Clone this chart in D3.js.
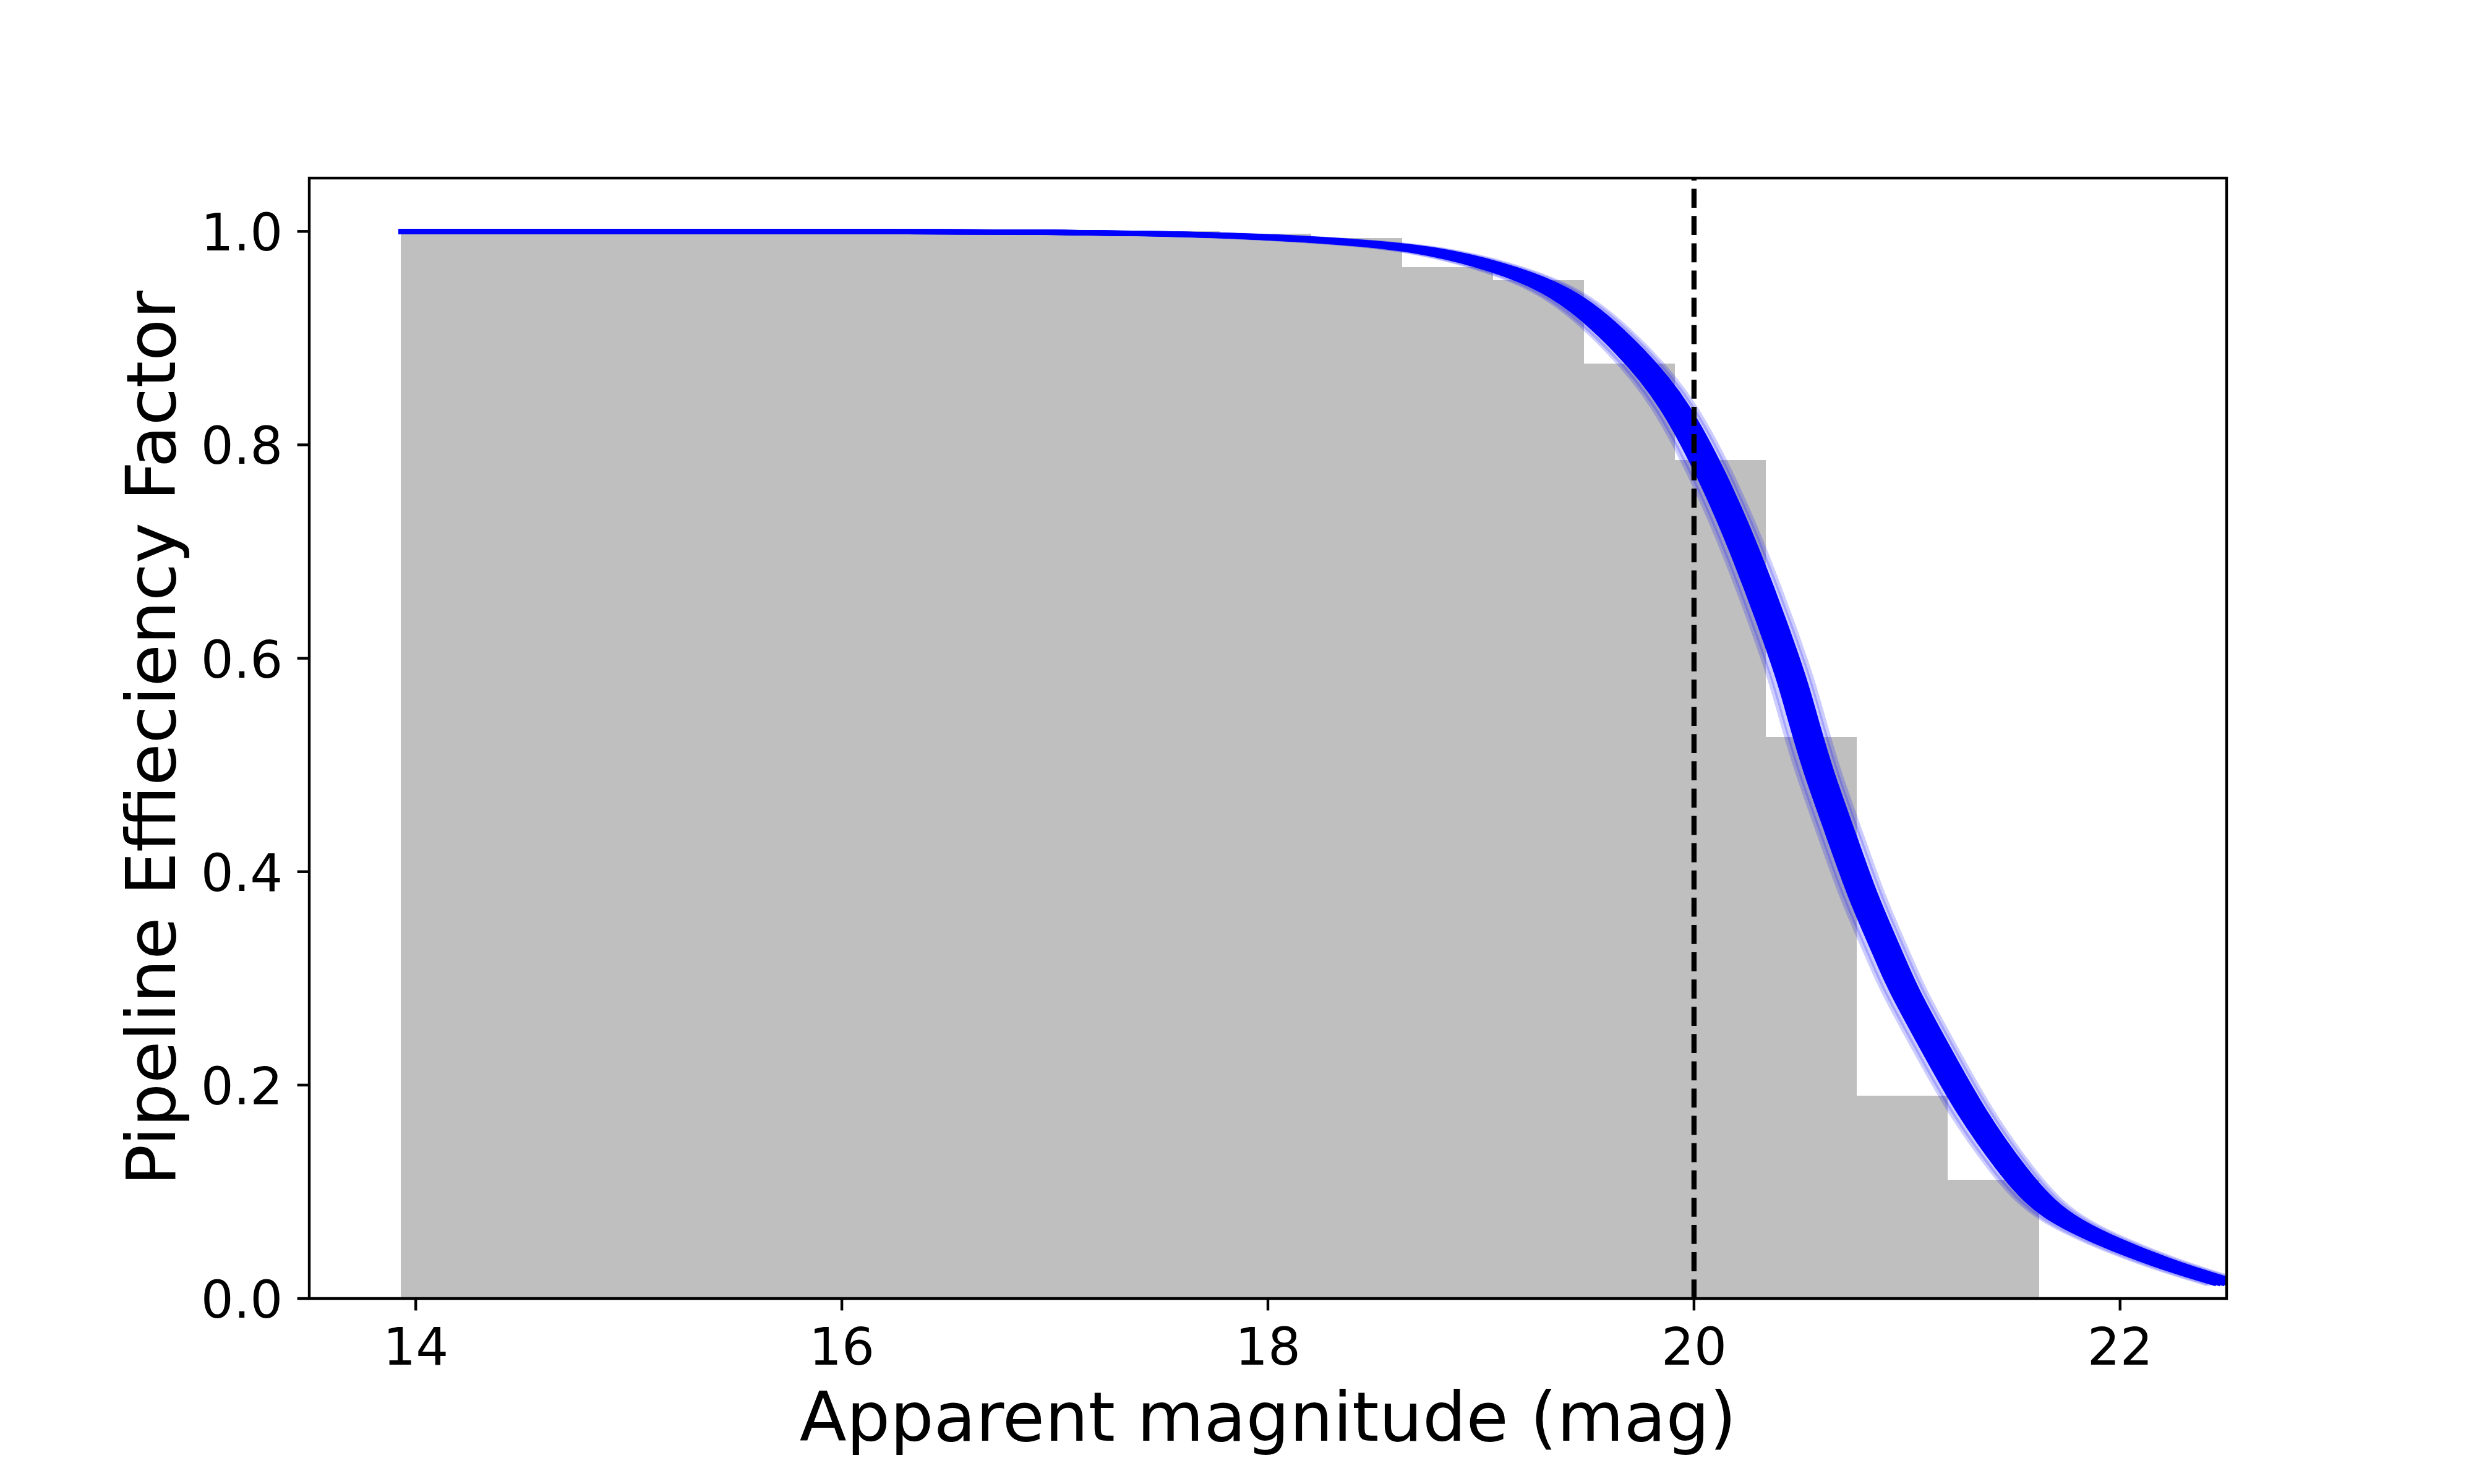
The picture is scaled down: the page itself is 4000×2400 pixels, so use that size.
<!DOCTYPE html>
<html>
<head>
<meta charset="utf-8">
<script src="https://cdn.jsdelivr.net/npm/d3@7"></script>
<style>
  body { margin: 0; background: #fff; }
  text { font-family: "DejaVu Sans", sans-serif; fill: #000; }
</style>
</head>
<body>
<div id="chart"></div>
<script>
// histogram of the pipeline efficiency (grey steps)
var binEdges = [13.93, 14.357, 14.784, 15.212, 15.639, 16.066, 16.493, 16.92, 17.347,
                17.774, 18.202, 18.629, 19.056, 19.483, 19.91, 20.337, 20.764, 21.192, 21.619];
var binHeights = [1.0, 1.0, 1.0, 1.0, 1.0, 1.0, 1.0, 1.0, 1.0,
                  0.998, 0.994, 0.9667, 0.9544, 0.8763, 0.786, 0.526, 0.190, 0.1113];

// median efficiency curve
var curveMag = [13.93, 15.0, 16.0, 17.0, 17.5, 18.0, 18.4, 18.725, 19.05, 19.3, 19.483,
                19.693, 19.91, 20.13, 20.25, 20.36, 20.46, 20.50, 20.58, 20.69, 20.79,
                20.92, 20.975, 21.14, 21.30, 21.50, 21.63, 21.75, 21.92, 22.21, 22.5];
var curveEff = [1.0, 1.0, 1.0, 0.9995, 0.998, 0.995, 0.990, 0.984, 0.969, 0.951, 0.929,
                0.890, 0.841, 0.753, 0.695, 0.637, 0.580, 0.551, 0.495, 0.435, 0.377,
                0.319, 0.292, 0.232, 0.174, 0.118, 0.089, 0.072, 0.055, 0.032, 0.0145];

// spread of the posterior sample curves (shift in mag): solid core + faint outliers
var coreShifts = [-0.06, -0.04, -0.02, 0, 0.02, 0.04, 0.06];
var faintShifts = [-0.1, -0.085, 0.08, 0.095];

var magCut = 20;   // dashed vertical line
var xTicks = [14, 16, 18, 20, 22];
var yTicks = [0.0, 0.2, 0.4, 0.6, 0.8, 1.0];

var xLabel = "Apparent magnitude (mag)";
var yLabel = "Pipeline Effieciency Factor";

// figure geometry (10x6 in @ 400 dpi)
var width = 4000, height = 2400;
var plot = {left: 500, right: 3600, top: 288, bottom: 2100};
var lw = 8.33;      // 1.5 pt
var spineW = 4.4;   // 0.8 pt
var tickLen = 19.4;

var x = d3.scaleLinear().domain([13.5, 22.5]).range([plot.left, plot.right]);
var y = d3.scaleLinear().domain([0, 1.05]).range([plot.bottom, plot.top]);

var svg = d3.select("#chart")
    .append("svg")
    .attr("width", width)
    .attr("height", height)
    .style("background-color", "white");

svg.append("defs").append("clipPath")
    .attr("id", "curveClip")
    .append("rect")
    .attr("x", x(binEdges[0]) - lw / 2)
    .attr("y", plot.top)
    .attr("width", plot.right - x(binEdges[0]) + lw / 2)
    .attr("height", plot.bottom - plot.top);

// histogram bars
svg.append("g")
    .selectAll("rect")
    .data(binHeights)
    .enter()
    .append("rect")
    .attr("x", function(d, i) { return x(binEdges[i]); })
    .attr("width", function(d, i) { return x(binEdges[i + 1]) - x(binEdges[i]); })
    .attr("y", function(d) { return y(d); })
    .attr("height", function(d) { return y(0) - y(d); })
    .style("fill", "#bfbfbf")
    .attr("shape-rendering", "crispEdges");

var pts = curveMag.map(function(m, i) { return {m: m, e: curveEff[i]}; });

function shiftedLine(s) {
    return d3.line()
        .x(function(d) { return x(d.m + s); })
        .y(function(d) { return y(d.e); })
        .curve(d3.curveBasis);
}

var curves = svg.append("g").attr("clip-path", "url(#curveClip)");

// faint outlying samples
curves.selectAll(".faint")
    .data(faintShifts)
    .enter()
    .append("path")
    .attr("class", "faint")
    .attr("d", function(s) { return shiftedLine(s)(pts); })
    .style("fill", "none")
    .style("stroke", "#0000ff")
    .style("stroke-opacity", 0.2)
    .style("stroke-width", lw)
    .style("stroke-linecap", "square");

// dense core of the samples
curves.selectAll(".core")
    .data(coreShifts)
    .enter()
    .append("path")
    .attr("class", "core")
    .attr("d", function(s) { return shiftedLine(s)(pts); })
    .style("fill", "none")
    .style("stroke", "#0000ff")
    .style("stroke-width", lw)
    .style("stroke-linecap", "square");

// dashed line at the cut magnitude, drawn from the bottom up
svg.append("line")
    .attr("x1", x(magCut)).attr("x2", x(magCut))
    .attr("y1", y(0)).attr("y2", y(1.05))
    .style("stroke", "#000")
    .style("stroke-width", lw)
    .style("stroke-dasharray", "30.8,13.3");

// ticks
var xt = svg.append("g").selectAll("g").data(xTicks).enter().append("g")
    .attr("transform", function(d) { return "translate(" + x(d) + ",0)"; });
xt.append("line")
    .attr("y1", plot.bottom).attr("y2", plot.bottom + tickLen)
    .style("stroke", "#000").style("stroke-width", spineW);
xt.append("text")
    .attr("y", 2207)
    .attr("text-anchor", "middle")
    .style("font-size", "83.3px")
    .text(function(d) { return d; });

var yt = svg.append("g").selectAll("g").data(yTicks).enter().append("g")
    .attr("transform", function(d) { return "translate(0," + y(d) + ")"; });
yt.append("line")
    .attr("x1", plot.left - tickLen).attr("x2", plot.left)
    .style("stroke", "#000").style("stroke-width", spineW);
yt.append("text")
    .attr("x", plot.left - 2 * tickLen - 4)
    .attr("y", 31)
    .attr("text-anchor", "end")
    .style("font-size", "83.3px")
    .text(function(d) { return d3.format(".1f")(d); });

// axes frame
svg.append("rect")
    .attr("x", plot.left).attr("y", plot.top)
    .attr("width", plot.right - plot.left)
    .attr("height", plot.bottom - plot.top)
    .style("fill", "none")
    .style("stroke", "#000")
    .style("stroke-width", spineW);

// axis labels
svg.append("text")
    .attr("x", (plot.left + plot.right) / 2)
    .attr("y", 2330)
    .attr("text-anchor", "middle")
    .style("font-size", "111px")
    .text(xLabel);

svg.append("text")
    .attr("transform", "translate(283," + (plot.top + plot.bottom) / 2 + ") rotate(-90)")
    .attr("text-anchor", "middle")
    .style("font-size", "111px")
    .text(yLabel);
</script>
</body>
</html>
